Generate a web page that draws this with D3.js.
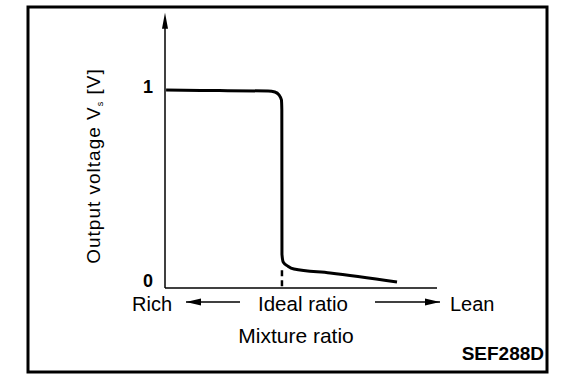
<!DOCTYPE html>
<html>
<head>
<meta charset="utf-8">
<script src="https://cdn.jsdelivr.net/npm/d3@7"></script>
<style>
  body { margin: 0; background: #fff; }
  text { font-family: "Liberation Sans", Arial, sans-serif; fill: #000; }
</style>
</head>
<body>
<svg id="chart" width="576" height="390"></svg>
<script>
// sensor output curve (mixture ratio in arbitrary units, output voltage in V)
const mixture = [0.04, 2.0, 3.79, 4.04, 4.19, 4.28, 4.295, 4.30, 4.35, 4.52, 4.74, 6.07, 8.53];
const voltage = [1.0, 0.997, 0.995, 0.99, 0.975, 0.95, 0.9, 0.17, 0.13, 0.11, 0.096, 0.076, 0.03];
const idealRatio = 4.30;
const yTicks = [0, 1];

const svg = d3.select("#chart");

const x = d3.scaleLinear().domain([0, 10]).range([165, 437]);
const y = d3.scaleLinear().domain([0, 1]).range([288, 90]);

// outer frame
svg.append("rect")
  .attr("x", 28).attr("y", 7)
  .attr("width", 519).attr("height", 365)
  .attr("fill", "none").attr("stroke", "#000").attr("stroke-width", 3);

// axes
svg.append("line")
  .attr("x1", x(0)).attr("x2", x(0))
  .attr("y1", y(0)).attr("y2", y(1.35))
  .attr("stroke", "#000").attr("stroke-width", 1.5);
svg.append("path")
  .attr("d", `M${x(0)},${y(1.39)} L${x(0) - 3},${y(1.39) + 16} L${x(0) + 3},${y(1.39) + 16} Z`)
  .attr("fill", "#000");
svg.append("line")
  .attr("x1", x(0)).attr("x2", x(10))
  .attr("y1", y(0)).attr("y2", y(0))
  .attr("stroke", "#000").attr("stroke-width", 1.5);

// tick labels
svg.selectAll("text.ytick")
  .data(yTicks)
  .join("text")
  .attr("class", "ytick")
  .attr("x", x(0) - 12)
  .attr("y", d => y(d) + (d === 0 ? -1 : 3))
  .attr("text-anchor", "end")
  .attr("font-size", 18)
  .attr("font-weight", "bold")
  .text(d => d);

// ideal ratio dashed marker
svg.append("line")
  .attr("x1", x(idealRatio)).attr("x2", x(idealRatio))
  .attr("y1", y(0.09)).attr("y2", y(0))
  .attr("stroke", "#000").attr("stroke-width", 2.5)
  .attr("stroke-dasharray", "6,4");

// curve
const pts = mixture.map((m, i) => [m, voltage[i]]);
svg.append("path")
  .datum(pts)
  .attr("d", d3.line().x(d => x(d[0])).y(d => y(d[1])).curve(d3.curveMonotoneX))
  .attr("fill", "none").attr("stroke", "#000").attr("stroke-width", 3);

// x labels with arrows
const lab = (t, xx, yy, anchor, size) => svg.append("text")
  .attr("x", xx).attr("y", yy).attr("text-anchor", anchor)
  .attr("font-size", size).text(t);

lab("Rich", 132, 311, "start", 20);
lab("Ideal ratio", 303, 311, "middle", 20.5);
lab("Lean", 450, 311, "start", 20);
lab("Mixture ratio", 296, 343, "middle", 21);
svg.append("text")
  .attr("x", 544).attr("y", 360).attr("text-anchor", "end")
  .attr("font-size", 19).attr("font-weight", "bold").text("SEF288D");

function arrow(x1, x2, yy) {
  svg.append("line").attr("x1", x1).attr("x2", x2).attr("y1", yy).attr("y2", yy)
    .attr("stroke", "#000").attr("stroke-width", 1.5);
  const dir = Math.sign(x2 - x1);
  svg.append("path")
    .attr("d", `M${x2},${yy} L${x2 - dir * 15},${yy - 3.5} L${x2 - dir * 15},${yy + 3.5} Z`)
    .attr("fill", "#000");
}
arrow(240, 186, 302);
arrow(375, 440, 302);

// y label
const yl = svg.append("text")
  .attr("transform", "translate(100,166) rotate(-90)")
  .attr("text-anchor", "middle")
  .attr("font-size", 19)
  .attr("letter-spacing", 1);
yl.append("tspan").text("Output voltage V");
yl.append("tspan").attr("font-size", 9).attr("dy", 3).text("s");
yl.append("tspan").attr("dy", -3).text(" [V]");
</script>
</body>
</html>
